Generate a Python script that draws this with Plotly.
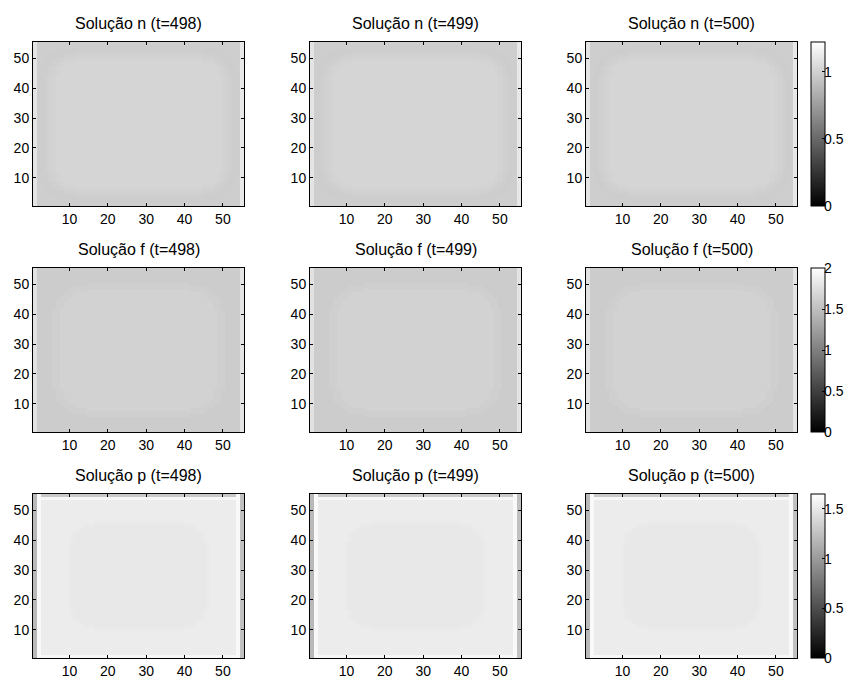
import math
import plotly.graph_objects as go

# page body has an 8px margin; compensate so the picture lines up
OFF = 8
W, H = 853 - OFF, 680 - OFF
N = 55

times = [498, 499, 500]
field_names = ["n", "f", "p"]

# colour limits per field (colorbar ranges)
cmax_vals = {"n": 1.22, "f": 2.0, "p": 1.65}
cbar_ticks = {"n": [0, 0.5, 1], "f": [0, 0.5, 1, 1.5, 2], "p": [0, 0.5, 1, 1.5]}
cbar_text = {"n": ["0", "0.5", "1"], "f": ["0", "0.5", "1", "1.5", "2"], "p": ["0", "0.5", "1", "1.5"]}

# values by depth from the boundary (outer band -> interior plateau)
n_levels = [0.985, 0.98, 0.98, 0.99, 1.0, 1.01, 1.02]
f_levels = [1.60, 1.60, 1.60, 1.60, 1.60, 1.62, 1.62, 1.645]
p_levels = [1.53, 1.53, 1.53, 1.53, 1.53, 1.53, 1.53, 1.53, 1.53, 1.515, 1.50]

# corner rounding (cells)
corner = {"n": 11, "f": 14, "p": 16}

# special boundary columns / rows (index -> value)
n_edge_cols = {0: 1.09, 54: 1.11}
n_edge_rows = {}
f_edge_cols = {0: 1.77, 54: 1.79}
f_edge_rows = {}
p_edge_rows = {0: 1.60, 53: 1.60, 54: 1.30}
p_edge_cols = {0: 1.20, 1: 1.61, 53: 1.61, 54: 1.25}

levels = {"n": n_levels, "f": f_levels, "p": p_levels}
edge_cols = {"n": n_edge_cols, "f": f_edge_cols, "p": p_edge_cols}
edge_rows = {"n": n_edge_rows, "f": f_edge_rows, "p": p_edge_rows}


def build(name):
    lv = levels[name]
    R = corner[name]
    z = []
    for j in range(N):
        row = []
        for i in range(N):
            a = min(i, N - 1 - i)
            b = min(j, N - 1 - j)
            if a < R and b < R:
                d = R - math.hypot(R - a, R - b)
            else:
                d = min(a, b)
            k = max(0, min(int(math.floor(d)), len(lv) - 1))
            v = lv[k]
            if j in edge_rows[name]:
                v = edge_rows[name][j]
            if i in edge_cols[name]:
                v = edge_cols[name][i]
            row.append(v)
        z.append(row)
    return z


xs = list(range(1, N + 1))
ys = list(range(1, N + 1))

col_left = [33 - OFF, 310 - OFF, 586 - OFF]
plot_w = 211
row_top = [42 - OFF, 268 - OFF, 494 - OFF]
plot_h = 164
cb_left = 811 - OFF
cb_w = 14
cb_label_x = 822 - OFF

font_family = "Liberation Sans, Arial, sans-serif"
gray_scale = [[0, "rgb(0,0,0)"], [1, "rgb(255,255,255)"]]

fig = go.Figure()
layout = dict(
    width=W, height=H,
    margin=dict(l=0, r=0, t=0, b=0),
    paper_bgcolor="white", plot_bgcolor="white",
    font=dict(family=font_family, size=13, color="black"),
    showlegend=False,
    annotations=[],
)

idx = 0
for r, name in enumerate(field_names):
    z = build(name)
    ca = "coloraxis" if r == 0 else f"coloraxis{r + 1}"
    layout[ca] = dict(
        cmin=0, cmax=cmax_vals[name], colorscale=gray_scale,
        colorbar=dict(
            x=cb_left / W, xanchor="left", xpad=0,
            y=1 - row_top[r] / H, yanchor="top", ypad=0,
            len=plot_h, lenmode="pixels",
            thickness=cb_w, thicknessmode="pixels",
            outlinewidth=1, outlinecolor="black",
            tickvals=cbar_ticks[name],
            ticks="inside", ticklen=3, tickcolor="black",
            showticklabels=False,
        ),
    )
    # colorbar tick labels placed at their values along the bar
    bottom_frac = 1 - (row_top[r] + plot_h) / H
    height_frac = plot_h / H
    for v, txt in zip(cbar_ticks[name], cbar_text[name]):
        layout["annotations"].append(dict(
            text=txt, x=cb_label_x / W, xref="paper", xanchor="left",
            y=bottom_frac + v / cmax_vals[name] * height_frac, yref="paper",
            yanchor="middle", showarrow=False,
            font=dict(size=14, family=font_family, color="black"),
        ))
    for c, t in enumerate(times):
        idx += 1
        xa = "x" if idx == 1 else f"x{idx}"
        ya = "y" if idx == 1 else f"y{idx}"
        fig.add_trace(go.Heatmap(
            z=z, x=xs, y=ys, coloraxis=ca, xaxis=xa, yaxis=ya,
            hoverinfo="skip",
        ))
        axis_common = dict(
            showgrid=False, zeroline=False,
            showline=True, linecolor="black", linewidth=1, mirror="ticks",
            ticks="inside", ticklen=3, tickcolor="black",
            tickvals=[10, 20, 30, 40, 50],
            tickfont=dict(size=14, family=font_family, color="black"),
            range=[0.5, 55.5],
        )
        xkey = "xaxis" if idx == 1 else f"xaxis{idx}"
        ykey = "yaxis" if idx == 1 else f"yaxis{idx}"
        layout[xkey] = dict(axis_common,
                            domain=[col_left[c] / W, (col_left[c] + plot_w) / W],
                            anchor=ya)
        layout[ykey] = dict(axis_common,
                            domain=[1 - (row_top[r] + plot_h) / H, 1 - row_top[r] / H],
                            anchor=xa)
        layout["annotations"].append(dict(
            text=f"Solução {name} (t={t})",
            x=(col_left[c] + plot_w / 2) / W, xref="paper", xanchor="center",
            y=1 - (row_top[r] - 8) / H, yref="paper", yanchor="bottom",
            showarrow=False,
            font=dict(size=16, family=font_family, color="black"),
        ))

fig.update_layout(**layout)
fig.write_html("out.html")
